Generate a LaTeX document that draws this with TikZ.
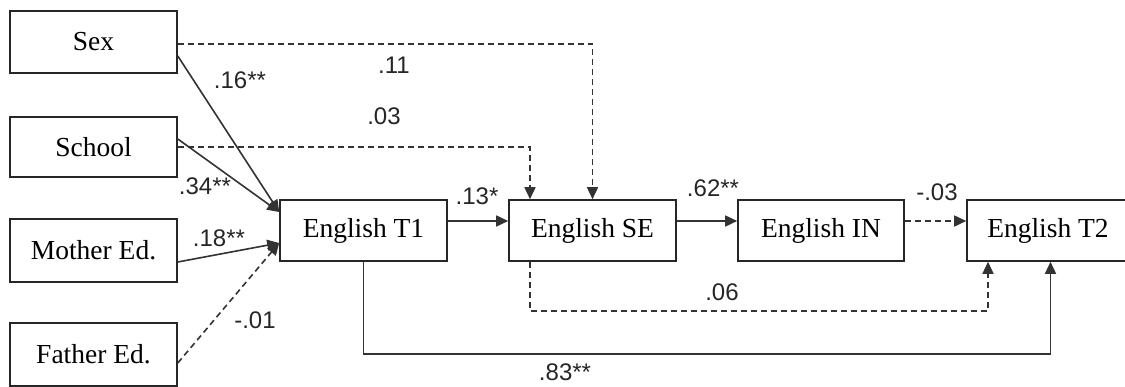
\documentclass[tikz,border=0pt]{standalone}
\usepackage{fontspec}
\setmainfont{Liberation Serif}
\newfontfamily\lblfont{Liberation Sans}
\usetikzlibrary{arrows.meta,calc}
\tikzset{
  var/.style={draw=black!85, line width=1.6pt, fill=white, minimum width=167pt, minimum height=61pt, inner sep=0pt, font=\fontsize{27.5}{30}\selectfont},
  conn/.style={draw=black!80, line width=1.6pt, -{Triangle[length=12pt,width=11pt]}},
  dconn/.style={conn, dash pattern=on 6pt off 4pt},
  lbl/.style={font=\lblfont\fontsize{24}{27}\selectfont, inner sep=0pt, text=black!85}
}
\begin{document}
\begin{tikzpicture}[x=1pt,y=-1pt]
\clip (0,0) rectangle (1125,387);
\fill[white] (0,0) rectangle (1125,387);
% nodes
\node[var, minimum height=62pt] (sex) at (93.5,42) {Sex};
\node[var, minimum height=60pt] (school) at (93.5,147) {School};
\node[var, minimum height=63pt] (mother) at (93.5,250.5) {Mother Ed.};
\node[var, minimum height=63pt] (father) at (93.5,354.5) {Father Ed.};
\node[var] (t1) at (363.5,230.5) {English T1};
\node[var] (se) at (592.5,230.5) {English SE};
\node[var, minimum width=166pt] (in) at (821,230.5) {English IN};
\node[var] (t2) at (1050.5,230.5) {\hspace*{-5pt}English T2};
% helper coordinates
\coordinate (b1) at (0,354);
\coordinate (b2) at (0,311);
\coordinate (seA) at ([xshift=-62.5pt]se.south);
\coordinate (t2A) at ([xshift=-62.5pt]t2.south);
\coordinate (seB) at ([xshift=-62.5pt]se.north);
% connectors
\draw[dconn] ([yshift=-2pt]sex.east) -| (se.north);
\draw[dconn] (school.east) -| (seB);
\draw[conn] ([yshift=-14pt]sex.east) -- ([yshift=18.5pt]t1.west);
\draw[conn] ([yshift=8pt]school.east) -- ([yshift=18.5pt]t1.west);
\draw[conn] ([yshift=-11.5pt]mother.east) -- ([yshift=-12.5pt]t1.west);
\draw[dconn] ([yshift=-8.5pt]father.east) -- ([yshift=-12.5pt]t1.west);
\draw[conn] ([yshift=9.5pt]t1.east) -- ([yshift=9.5pt]se.west);
\draw[conn] ([yshift=9.5pt]se.east) -- ([yshift=9.5pt]in.west);
\draw[dconn] ([yshift=9.5pt]in.east) -- ([yshift=9.5pt]t2.west);
\draw[dconn] (seA) -- (seA |- b2) -| (t2A);
\draw[conn] (t1.south) -- (t1.south |- b1) -| (t2.south);
% labels
\node[lbl] (l1) at (240,80) {.16**};
\node[lbl] (l2) at (394,65) {.11};
\node[lbl] (l3) at (384,116) {.03};
\node[lbl] (l4) at (205,186) {.34**};
\node[lbl] (l5) at (219,238) {.18**};
\node[lbl] (l6) at (255,320) {-.01};
\node[lbl] (l7) at (477,196) {.13*};
\node[lbl] (l8) at (713,188) {.62**};
\node[lbl] (l9) at (937,192) {-.03};
\node[lbl] (l10) at (722,292) {.06};
\node[lbl] (l11) at (565,372) {.83**};
\end{tikzpicture}
\end{document}
